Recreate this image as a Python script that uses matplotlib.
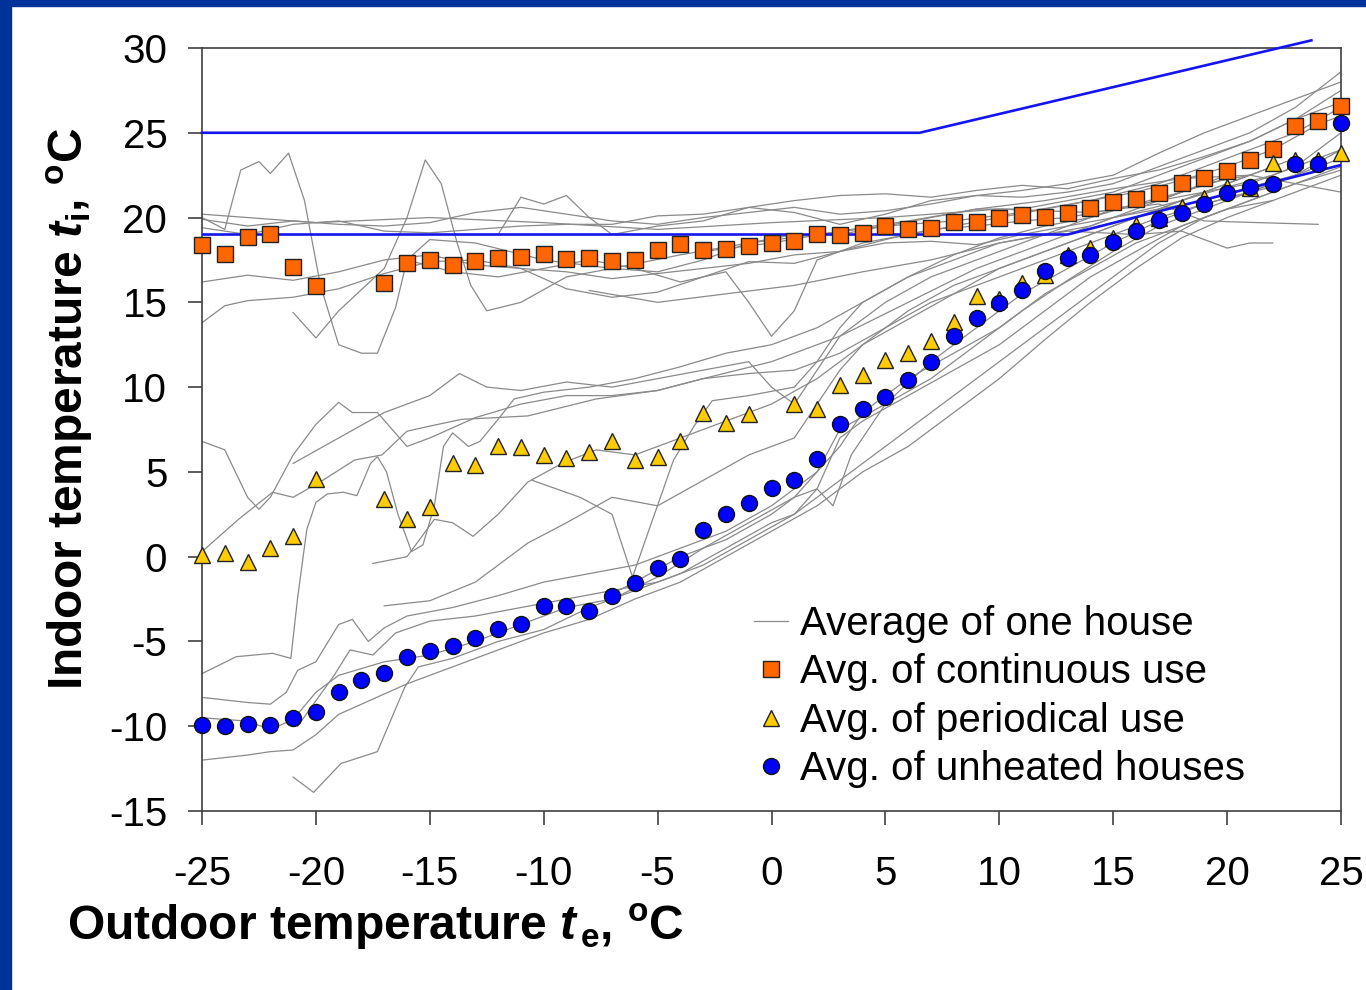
import numpy as np
import matplotlib
matplotlib.use("Agg")
import matplotlib.pyplot as plt
from matplotlib.lines import Line2D
from matplotlib.patches import Rectangle

plt.rcParams['font.family'] = ['Liberation Sans', 'DejaVu Sans']
plt.rcParams['axes.unicode_minus'] = False
plt.rcParams['mathtext.fontset'] = 'custom'
plt.rcParams['mathtext.rm'] = 'Liberation Sans:bold'
plt.rcParams['mathtext.it'] = 'Liberation Sans:italic:bold'
plt.rcParams['mathtext.bf'] = 'Liberation Sans:bold'

nan = np.nan

# outdoor temperature steps
te = np.arange(-25, 26)

# averages
avg_continuous = [18.4, 17.85, 18.86, 19.03, 17.1, 15.97, nan, nan,
                  16.14, 17.32, 17.5, 17.2, 17.44, 17.62, 17.68, 17.85, 17.56,
                  17.62, 17.44, 17.5, 18.09, 18.44, 18.09, 18.15, 18.3,
                  18.5, 18.6, 19.03, 18.97, 19.09, 19.5, 19.33, 19.39, 19.74,
                  19.74, 19.98, 20.15, 20.03, 20.27, 20.57, 20.92, 21.1, 21.45,
                  22.04, 22.33, 22.75, 23.4, 24.04, 25.4, 25.7, 26.6]
avg_periodical = [0.1, 0.22, -0.3, 0.52, 1.23, 4.6, nan, nan,
                  3.4, 2.2, 2.9, 5.5, 5.4, 6.5, 6.47, 6.0, 5.8, 6.2, 6.8,
                  5.7, 5.9, 6.8, 8.5, 7.9, 8.4,
                  nan,
                  9.0, 8.7, 10.1, 10.7, 11.6, 12.0, 12.7, 13.85, 15.4, 15.2,
                  16.15, 16.6, 17.8, 18.2, 18.8, 19.56, 20.0, 20.6, 21.15, 21.8,
                  21.75, 23.2, 23.4, 23.4, 23.8]
avg_unheated = [-9.9, -10.0, -9.86, -9.9, -9.5, -9.15, -7.97, -7.26, -6.85,
                -5.9, -5.55, -5.26, -4.79, -4.26, -3.96, -2.9, -2.9, -3.2,
                -2.3, -1.54, -0.66, -0.13, 1.58, 2.52, 3.17,
                4.06, 4.53, 5.77, 7.83, 8.7, 9.4, 10.42, 11.5, 13.0, 14.08,
                14.96, 15.7, 16.85, 17.6, 17.8, 18.56, 19.2, 19.86, 20.27,
                20.8, 21.45, 21.8, 21.98, 23.16, 23.16, 25.58]

# comfort limits (blue lines)
upper_x = [-25, 6.5, 23.7]
upper_y = [25, 25, 30.45]
lower_x = [-25, 13, 25]
lower_y = [19, 19, 23.1]

# single houses (rough traces), each as [x list, y list]
houses = [
    [[-25, -24, -23.3, -22.5, -22, -21.2, -20.5, -19.8, -19, -18, -17.3, -16.5, -16, -15, -13, -10, -7, -4, -1, 2, 5, 8, 11, 14, 17, 20, 23, 25],
     [20.0, 19.3, 22.8, 23.3, 22.6, 23.8, 21.0, 16.0, 12.5, 12.0, 12.0, 14.7, 17.5, 18.7, 18.5, 17.5, 17.0, 17.8, 18.5, 19.0, 19.5, 19.8, 20.3, 21.0, 22.0, 23.5, 25.0, 26.5]],
    [[-21, -20, -19, -17, -16, -15.2, -14.5, -13.8, -13.2, -12.5, -11, -9, -7, -5, -3, -1, 1, 3, 5, 7, 9, 11, 13, 15, 17, 19, 21, 23, 25],
     [14.4, 12.9, 14.5, 17.0, 20.0, 23.4, 22.0, 18.5, 16.0, 14.5, 15.0, 16.5, 17.0, 16.8, 17.5, 18.5, 19.0, 19.0, 19.5, 20.0, 20.5, 20.5, 21.0, 21.5, 22.5, 23.5, 24.5, 25.8, 26.8]],
    [[-25, -23, -21, -19, -17, -15, -13, -11, -9, -7, -5, -3, -1, 1, 3, 5, 7, 9, 11, 13, 15, 17, 19, 21, 23, 25],
     [19.9, 19.5, 19.8, 19.6, 19.5, 19.7, 20.3, 20.6, 20.2, 19.8, 19.6, 20.0, 20.3, 20.6, 20.2, 20.4, 20.8, 21.3, 21.2, 21.5, 22.0, 23.0, 24.0, 25.0, 26.5, 28.6]],
    [[-25, -23, -21, -19, -17, -15, -13, -11, -9, -7, -5, -3, -1, 1, 3, 5, 7, 9, 11, 13, 15, 17, 19, 21, 23, 25],
     [19.4, 19.0, 19.6, 19.8, 19.2, 19.1, 19.3, 19.5, 19.6, 19.6, 20.1, 20.2, 20.6, 21.0, 21.3, 21.4, 21.2, 21.6, 21.9, 21.7, 22.3, 22.8, 23.6, 24.5, 25.8, 27.5]],
    [[-25, -23, -21, -19, -17, -15, -13, -11, -9, -7, -5, -3, -1, 1, 3, 5, 7, 9, 11, 13, 15, 17, 19, 21, 23, 25],
     [16.2, 16.6, 16.3, 16.8, 17.5, 17.8, 17.2, 17.0, 16.8, 16.4, 16.7, 17.0, 17.3, 17.8, 18.0, 18.5, 18.6, 18.4, 19.0, 19.5, 20.0, 20.5, 21.0, 21.8, 22.5, 24.0]],
    [[-25, -24, -23, -21, -19, -17, -15, -13, -11, -9, -7, -5, -3, -1, 1, 3, 5, 7, 9, 11, 13, 15, 17, 19, 21, 23, 25],
     [13.8, 14.8, 15.1, 15.3, 15.8, 16.7, 17.4, 17.5, 17.0, 15.8, 15.3, 15.6, 16.5, 17.4, 17.3, 18.0, 18.7, 19.3, 19.5, 19.8, 20.0, 20.5, 21.0, 21.5, 22.0, 23.0, 25.0]],
    [[-16, -14, -12, -10, -8, -6, -4, -2, -1, 0, 1, 2, 4, 6, 8, 10, 12, 14, 16, 18, 20, 22, 24, 25],
     [17.5, 16.8, 16.5, 17.0, 17.5, 17.0, 16.2, 16.8, 15.0, 13.0, 14.5, 17.5, 18.5, 19.0, 19.5, 20.0, 20.5, 21.0, 21.5, 22.2, 23.0, 24.0, 25.5, 26.0]],
    [[-12, -11, -10, -9, -8, -7, -5, -3, -1, 1, 3, 5, 7, 9, 11, 13, 15, 17, 19, 21, 23, 25],
     [19.0, 21.2, 20.8, 21.3, 20.0, 19.0, 19.5, 19.8, 20.6, 20.3, 19.6, 20.2, 21.0, 21.3, 21.6, 22.0, 22.5, 23.8, 25.0, 26.0, 27.0, 28.0]],
    [[-25, -20, -15, -10, -5, 0, 5, 10, 14, 17, 19, 21.4, 24],
     [20.2, 19.7, 20.0, 19.7, 19.3, 19.7, 20.0, 20.5, 20.3, 20.8, 19.8, 19.7, 19.6]],
    [[-8, -5, -2, 1, 4, 7, 10, 13, 16, 18, 20, 21, 22],
     [15.7, 15.0, 15.5, 16.0, 16.8, 17.5, 18.5, 19.2, 19.0, 19.2, 18.2, 18.5, 18.5]],
    [[-3, 0, 3, 6, 9, 12, 15, 18, 21, 23, 25],
     [18.0, 18.5, 19.2, 19.8, 20.5, 21.0, 21.7, 22.3, 22.5, 22.0, 21.5]],
    [[-25, -24, -23, -22.5, -22, -21, -20, -19, -18.4, -17.3, -16, -15, -13, -11, -9, -7, -5, -3, -1, 1, 3, 5, 7, 9, 11, 13, 15, 17, 19, 21, 23],
     [6.8, 6.3, 3.5, 2.8, 3.5, 6.0, 7.8, 9.1, 8.5, 8.5, 6.5, 7.0, 8.2, 9.0, 9.5, 9.5, 9.8, 10.5, 10.8, 11.0, 12.0, 13.5, 15.0, 16.0, 17.0, 18.0, 19.0, 20.0, 20.8, 21.5, 22.5]],
    [[-25, -23.4, -21.9, -21, -19.7, -18.3, -17.1, -16, -15, -13.6, -12.1, -10.7, -9.2, -7.7, -5, -3, 0, 3, 6, 9, 12, 15, 18, 21, 23],
     [0.3, 2.2, 3.8, 3.5, 4.5, 5.7, 6.0, 7.4, 7.7, 8.1, 8.2, 8.3, 8.8, 9.3, 9.8, 10.5, 11.5, 13.0, 15.0, 17.0, 18.5, 20.0, 21.0, 22.5, 23.5]],
    [[-25, -23.5, -21.9, -21.1, -20.8, -20.4, -20, -19.5, -18.8, -18.2, -17.6, -17.3, -16.9, -16.4, -15.8, -15.3, -14.8, -14.4, -14, -13.3, -12.8, -12, -11.3, -10, -8, -6, -4, -2, 0, 2, 4, 6, 8, 10, 12, 14, 16, 18, 20],
     [-6.9, -5.9, -5.7, -6.0, -2.4, 1.6, 3.2, 3.7, 3.8, 3.6, 5.5, 5.9, 5.0, 2.5, 0.3, 0.7, 3.0, 6.5, 7.3, 6.5, 6.8, 8.1, 9.3, 9.7, 10.0, 10.5, 11.2, 12.0, 12.5, 13.5, 15.0, 16.5, 17.8, 18.8, 19.5, 20.0, 20.8, 21.5, 22.3]],
    [[-17.5, -16, -14.8, -14, -13.1, -12, -10.7, -9.2, -7.7, -6, -4, -2, 0, 2, 4, 6, 8, 10, 12, 14, 16, 18, 20, 22],
     [-0.4, 0.0, 2.2, 2.0, 1.2, 2.5, 4.4, 5.5, 6.3, 6.0, 7.0, 8.0, 9.0, 10.5, 12.5, 14.5, 16.0, 17.0, 18.0, 19.0, 20.0, 21.0, 22.0, 23.0]],
    [[-17, -15, -13, -10.7, -9, -7, -5, -3, -1, 1, 2, 3, 4, 6, 8, 10, 12, 14, 16, 18, 20, 22, 24, 25],
     [-2.9, -2.6, -1.5, 0.8, 2.0, 3.5, 3.0, 4.5, 6.0, 7.0, 9.0, 11.0, 12.5, 14.0, 15.5, 17.0, 18.0, 19.0, 20.0, 21.0, 21.8, 22.5, 23.5, 24.0]],
    [[-21, -19, -17, -15, -13.7, -12.5, -11, -9, -7, -5, -3, -1, 0, 1, 2, 3, 5, 7, 9, 11, 13, 15, 17, 19, 21],
     [5.5, 7.0, 8.5, 9.5, 10.8, 10.0, 9.8, 10.3, 10.0, 10.5, 11.0, 11.5, 10.0, 9.0, 11.0, 13.0, 15.0, 16.5, 17.5, 18.5, 19.5, 20.5, 21.0, 22.0, 22.5]],
    [[-10.5, -8.4, -7, -6.1, -5.4, -4.3, -3.4, -2.6, -1, 1, 2, 3, 4, 6, 8, 10, 12, 14, 16, 18, 20],
     [4.5, 3.5, 2.5, -1.2, 1.5, 5.7, 7.7, 9.2, 9.5, 10.0, 11.5, 13.5, 15.0, 16.5, 17.5, 18.5, 19.0, 19.5, 20.5, 21.5, 22.5]],
    [[-7.3, -6, -4, -2, 0, 1, 2, 2.7, 3.5, 5, 7, 9, 11, 13, 15, 17, 19, 21, 22],
     [-2.4, -1.5, 0.0, 1.0, 2.5, 3.5, 4.0, 3.0, 6.0, 9.0, 11.5, 13.5, 15.5, 17.0, 18.5, 19.8, 20.8, 21.5, 21.8]],
    [[-25, -23, -22, -21, -20, -19, -18, -16, -14, -12, -10, -8, -6, -4, -2, 0, 2, 4, 6, 8, 10, 12, 14, 16, 18, 20, 22, 24, 25],
     [-12.0, -11.7, -11.5, -11.4, -10.5, -9.3, -8.7, -7.5, -6.5, -5.5, -4.5, -3.7, -2.5, -1.5, 0.0, 1.5, 3.0, 5.0, 6.5, 8.5, 10.5, 12.8, 15.0, 17.0, 18.8, 20.0, 21.0, 22.0, 22.5]],
    [[-21.0, -20.1, -18.9, -17.3, -16.1, -15.5, -14, -12, -10, -8, -6, -4, -2, 0, 1, 2, 3, 4, 6, 8, 10, 12, 14, 16, 18, 20, 22, 24, 25],
     [-13.0, -13.9, -12.2, -11.5, -7.7, -6.5, -6.0, -5.0, -4.3, -3.0, -2.0, -1.0, 0.5, 2.0, 2.5, 4.0, 7.0, 8.0, 9.5, 11.0, 12.5, 14.5, 16.5, 18.0, 19.5, 20.5, 21.5, 22.5, 23.0]],
    [[-25, -23, -22, -21, -20, -19, -17, -15, -13, -11, -9, -7, -5, -3, -1, 1, 2, 3, 5, 7, 9, 11, 13, 15, 17, 19, 21, 23, 25],
     [-9.5, -9.7, -10.2, -9.6, -8.0, -7.0, -6.2, -5.8, -5.0, -4.0, -3.0, -2.5, -1.2, 0.5, 2.0, 3.5, 5.0, 7.5, 9.0, 10.5, 12.5, 14.5, 16.3, 18.0, 19.5, 20.5, 21.5, 22.5, 23.5]],
    [[-25, -23, -22, -21.3, -20.8, -20, -19, -18.4, -17.7, -17, -16, -14, -12, -10, -8, -6, -4, -2, 0, 2, 3, 4, 6, 8, 10, 12, 14, 16, 18, 20, 22],
     [-8.3, -8.6, -8.7, -8.0, -6.7, -6.2, -4.0, -3.7, -5.0, -4.2, -3.5, -3.0, -2.3, -1.5, -1.0, -0.5, 0.5, 1.5, 3.0, 5.0, 6.5, 8.5, 10.5, 12.0, 13.5, 15.5, 17.0, 18.5, 19.5, 20.5, 21.0]],
    [[-20.8, -20, -19.2, -18.5, -17.5, -16.5, -15, -13, -11, -9, -7, -5, -3, -1, 1, 3, 5, 7, 9, 11, 13, 15, 17, 19, 21, 23, 25],
     [-10.0, -8.5, -7.0, -5.5, -5.8, -4.5, -3.8, -3.5, -3.0, -2.5, -2.0, -1.5, -0.5, 1.0, 2.5, 4.5, 6.5, 8.5, 10.5, 12.5, 14.5, 16.5, 18.5, 20.0, 21.0, 22.0, 22.8]],
]

labels = ['Average of one house', 'Avg. of continuous use',
          'Avg. of periodical use', 'Avg. of unheated houses']

W, H = 1366, 990
fig = plt.figure(figsize=(W / 100, H / 100), dpi=100)
fig.patch.set_facecolor('white')
# blue slide frame
fig.patches.append(Rectangle((0, 0), 11 / W, 1, transform=fig.transFigure,
                             color='#003399', zorder=0))
fig.patches.append(Rectangle((0, 1 - 6 / H), 1, 6 / H, transform=fig.transFigure,
                             color='#003399', zorder=0))

ax = fig.add_axes([202 / W, 1 - 811 / H, (1341 - 202) / W, (811 - 48) / H])

for hx, hy in houses:
    ax.plot(hx, hy, color='#8a8a8a', lw=0.9, zorder=2)

ax.plot(upper_x, upper_y, color='#1414f0', lw=1.9, zorder=3, clip_on=False)
ax.plot(lower_x, lower_y, color='#1414f0', lw=1.9, zorder=3)

ax.plot(te, avg_continuous, ls='none', marker='s', ms=12, mfc='#ff6600',
        mec='#222222', mew=1.0, zorder=5, clip_on=False)
ax.plot(te, avg_periodical, ls='none', marker='^', ms=12, mfc='#ffcc00',
        mec='#222222', mew=1.0, zorder=6, clip_on=False)
ax.plot(te, avg_unheated, ls='none', marker='o', ms=11.5, mfc='#0000ff',
        mec='#111111', mew=1.0, zorder=7, clip_on=False)

ax.set_xlim(-25, 25)
ax.set_ylim(-15, 30)
ax.set_xticks(range(-25, 26, 5))
ax.set_yticks(range(-15, 31, 5))
for s in ax.spines.values():
    s.set_color('#404040')
    s.set_linewidth(1.2)
ax.tick_params(direction='out', length=10, width=1.2, color='#404040',
               labelsize=29)
ax.tick_params(axis='x', pad=22)
ax.tick_params(axis='y', pad=15)

fig.text(67 / W, 1 - 940 / H,
         r'Outdoor temperature $t_{\,\mathrm{e}}$, $^{\mathrm{o}}$C',
         fontsize=34.5, fontweight='bold', ha='left', va='baseline')
fig.text(70 / W, 1 - 690 / H,
         r'Indoor temperature $t_{\mathrm{i}}$, $^{\mathrm{o}}$C',
         fontsize=34.5, fontweight='bold', rotation=90, ha='center', va='bottom')

handles = [
    Line2D([], [], color='#8a8a8a', lw=0.9),
    Line2D([], [], ls='none', marker='s', ms=12, mfc='#ff6600', mec='#222222'),
    Line2D([], [], ls='none', marker='^', ms=12, mfc='#ffcc00', mec='#222222'),
    Line2D([], [], ls='none', marker='o', ms=11.5, mfc='#0000ff', mec='#111111'),
]
ax.legend(handles, labels, loc='upper left', bbox_to_anchor=(754 / W, 1 - 605 / H),
          bbox_transform=fig.transFigure, frameon=False, fontsize=29,
          handlelength=0.85, handletextpad=0.3, labelspacing=0.26,
          borderpad=0, borderaxespad=0)

fig.savefig('out.png', dpi=100)
